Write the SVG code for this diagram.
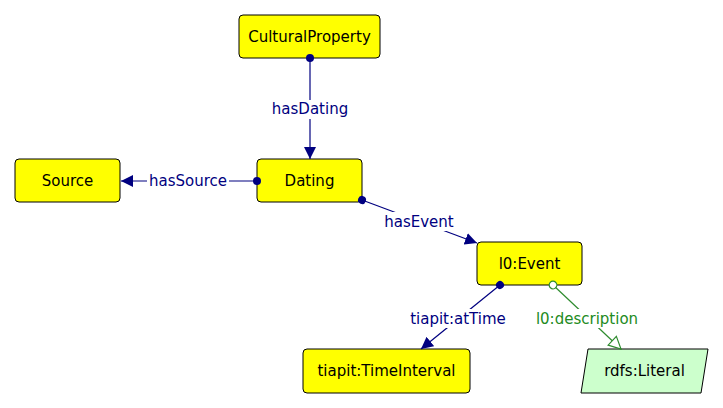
<svg xmlns="http://www.w3.org/2000/svg" width="723" height="408" viewBox="0 0 723 408">
<style>
.box{fill:#ffff00;stroke:#000;stroke-width:1}
.lit{fill:#ccffcc;stroke:#000;stroke-width:1}
.t{font-family:"DejaVu Sans",sans-serif;font-size:15px;fill:#000;text-anchor:middle;dominant-baseline:central}
.e{stroke:#000080;stroke-width:1.2;fill:none}
.g{stroke:#2e8b2e;stroke-width:1.2;fill:none}
.el{font-family:"DejaVu Sans",sans-serif;font-size:15px;fill:#000080;text-anchor:middle;dominant-baseline:central}
.gl{font-family:"DejaVu Sans",sans-serif;font-size:15px;fill:#228b22;text-anchor:middle;dominant-baseline:central}
.bg{fill:#fff}
</style>
<defs>
<marker id="arr" viewBox="0 0 12 12" refX="12" refY="6" markerWidth="12" markerHeight="12" markerUnits="userSpaceOnUse" orient="auto"><path d="M0,0 L12,6 L0,12 z" fill="#000080"/></marker>
<marker id="dot" viewBox="0 0 10 10" refX="5" refY="5" markerWidth="10" markerHeight="10" markerUnits="userSpaceOnUse" orient="auto"><circle cx="5" cy="5" r="4" fill="#000080"/></marker>
<marker id="odot" viewBox="0 0 10 10" refX="5" refY="5" markerWidth="10" markerHeight="10" markerUnits="userSpaceOnUse" orient="auto"><circle cx="5" cy="5" r="3.8" fill="#fff" stroke="#2e8b2e" stroke-width="1.2"/></marker>
<marker id="otri" viewBox="0 0 14 14" refX="13" refY="7" markerWidth="14" markerHeight="14" markerUnits="userSpaceOnUse" orient="auto"><path d="M1,1 L13,7 L1,13 z" fill="#fff" stroke="#2e8b2e" stroke-width="1.2"/></marker>
</defs>
<rect width="723" height="408" fill="#fff"/>
<g id="n-CulturalProperty">
<rect class="box" x="239" y="15" width="141" height="43" rx="4"/>
<text class="t" x="309.5" y="37">CulturalProperty</text>
</g>
<g id="n-Dating">
<rect class="box" x="257" y="159" width="105" height="43" rx="4"/>
<text class="t" x="309.5" y="181">Dating</text>
</g>
<g id="n-Source">
<rect class="box" x="15" y="159" width="105" height="43" rx="4"/>
<text class="t" x="67.5" y="181">Source</text>
</g>
<g id="n-Event">
<rect class="box" x="477" y="242" width="105" height="43" rx="4"/>
<text class="t" x="529.5" y="264">l0:Event</text>
</g>
<g id="n-TimeInterval">
<rect class="box" x="303" y="349" width="167" height="44" rx="4"/>
<text class="t" x="386.5" y="371">tiapit:TimeInterval</text>
</g>
<g id="n-Literal">
<polygon class="lit" points="588,349 708,349 701,393 581,393"/>
<text class="t" x="644.5" y="371">rdfs:Literal</text>
</g>
<g id="connectors">
<g id="e-hasDating">
<line class="e" x1="310" y1="58" x2="310" y2="159" marker-start="url(#dot)" marker-end="url(#arr)"/>
<rect class="bg" x="269" y="100" width="82" height="19"/>
<text class="el" x="310" y="109">hasDating</text>
</g>
<g id="e-hasSource">
<line class="e" x1="257" y1="181" x2="121" y2="181" marker-start="url(#dot)" marker-end="url(#arr)"/>
<rect class="bg" x="147" y="172" width="82" height="19"/>
<text class="el" x="188" y="181">hasSource</text>
</g>
<g id="e-hasEvent">
<line class="e" x1="362" y1="200" x2="477" y2="243" marker-start="url(#dot)" marker-end="url(#arr)"/>
<rect class="bg" x="382" y="212" width="74" height="19"/>
<text class="el" x="419" y="222">hasEvent</text>
</g>
<g id="e-atTime">
<line class="e" x1="500" y1="285" x2="421" y2="349" marker-start="url(#dot)" marker-end="url(#arr)"/>
<rect class="bg" x="405" y="309" width="107" height="19"/>
<text class="el" x="458" y="319">tiapit:atTime</text>
</g>
<g id="e-description">
<line class="g" x1="553" y1="285" x2="621" y2="349" marker-start="url(#odot)" marker-end="url(#otri)"/>
<rect class="bg" x="530" y="309" width="114" height="19"/>
<text class="gl" x="587" y="319">l0:description</text>
</g>
</g>
</svg>
